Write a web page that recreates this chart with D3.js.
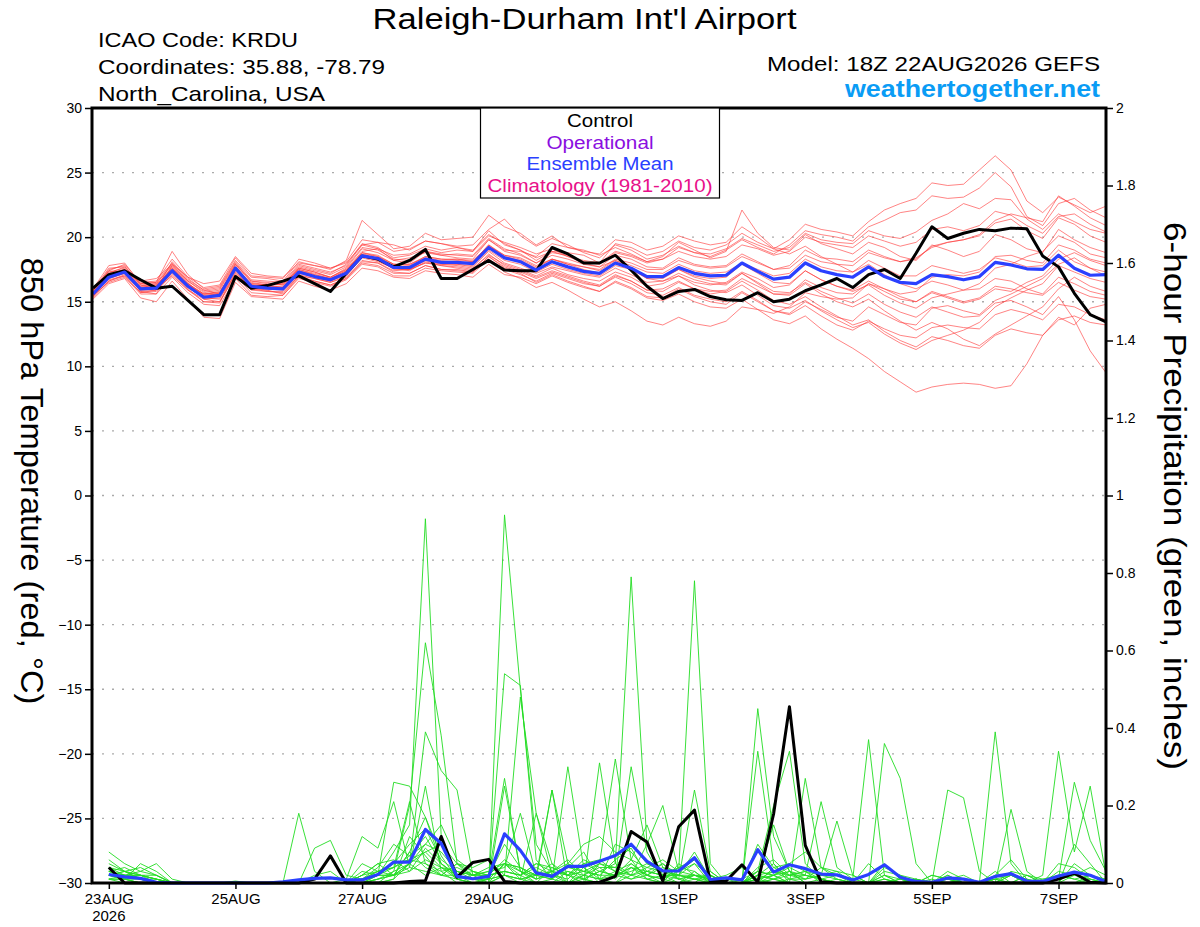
<!DOCTYPE html>
<html>
<head>
<meta charset="utf-8">
<script src="https://cdn.jsdelivr.net/npm/d3@7"></script>
<style>
  body { margin: 0; background: #fff; }
  text { font-family: "Liberation Sans", Arial, sans-serif; }
</style>
</head>
<body>
<svg id="chart" width="1200" height="927"></svg>
<script>
// run info: first temperature step is 18Z 22AUG, 6-hourly to 18Z 7SEP
const runStart = "2026-08-22T18:00:00Z";
const tempTicks = [-30, -25, -20, -15, -10, -5, 0, 5, 10, 15, 20, 25, 30];
const precipTicks = [0, 0.2, 0.4, 0.6, 0.8, 1, 1.2, 1.4, 1.6, 1.8, 2];
const dateTicks = ["2026-08-23", "2026-08-25", "2026-08-27", "2026-08-29",
                   "2026-09-01", "2026-09-03", "2026-09-05", "2026-09-07"];

// 850 hPa temperature, steps 0..64
const controlTemp = [16.05, 17.1, 17.4, 16.7, 16.05, 16.2, 15.1, 14.0, 14.0, 16.95,
  16.05, 16.25, 16.6, 17.0, 16.4, 15.8, 17.2, 18.55, 18.3, 17.7,
  18.2, 19.05, 16.8, 16.8, 17.5, 18.2, 17.45, 17.4, 17.4, 19.2,
  18.7, 18.0, 18.0, 18.6, 17.45, 16.2, 15.25, 15.8, 15.95, 15.4,
  15.15, 15.1, 15.7, 15.0, 15.2, 15.85, 16.3, 16.8, 16.1, 17.1,
  17.5, 16.8, 18.75, 20.8, 19.9, 20.3, 20.6, 20.5, 20.7, 20.65,
  18.55, 17.7, 15.65, 14.0, 13.45];

const meanTemp = [15.6, 16.9, 17.3, 16.0, 16.05, 17.4, 16.2, 15.35, 15.5, 17.6,
  16.2, 16.05, 16.0, 17.3, 16.95, 16.7, 17.2, 18.55, 18.35, 17.65,
  17.65, 18.3, 18.05, 18.05, 17.95, 19.2, 18.4, 18.1, 17.45, 18.1,
  17.7, 17.35, 17.2, 18.0, 17.6, 16.95, 16.95, 17.65, 17.2, 17.0,
  17.05, 18.0, 17.35, 16.75, 16.9, 18.0, 17.4, 17.1, 16.9, 17.7,
  16.95, 16.5, 16.4, 17.1, 16.95, 16.7, 16.95, 18.05, 17.85, 17.55,
  17.5, 18.6, 17.6, 17.05, 17.1];

const memberTemps = [
  [15.8,17.5,17.8,16.3,16.0,18.1,16.8,15.9,15.6,17.9,16.5,16.3,16.4, 17.8,17.5,17.2,17.9,19.5,19.2,18.4,18.6,19.1,18.8,19.0,18.9,20.5, 19.4,19.0,18.2,18.9,18.8,18.6,18.0,19.5,19.2,18.6,18.9,19.7,19.2, 19.0,19.4,20.3,19.6,19.1,19.8,21.0,20.6,20.4,20.1,21.2,22.1,22.6, 23.0,24.2,24.0,24.1,25.2,26.3,25.2,22.8,21.9,23.1,22.5,21.9,22.4],
  [15.4,17.2,17.5,15.8,15.6,17.8,16.5,15.2,15.0,17.3,16.0,15.9,16.1, 17.6,17.3,16.9,17.5,18.9,19.1,18.2,18.0,18.9,18.6,18.4,18.3,19.8, 18.9,18.6,18.0,18.8,18.6,18.1,17.9,18.8,18.5,18.0,18.3,19.2,18.8, 18.5,19.0,19.8,19.2,18.7,19.4,20.5,20.2,20.0,19.7,20.8,21.3,21.9, 22.1,23.2,23.0,23.1,23.8,25.0,23.9,21.6,20.9,22.6,23.0,22.1,21.5],
  [15.5,16.7,17.0,15.7,15.9,17.2,16.0,15.0,14.9,17.2,16.1,15.9,15.6, 17.0,16.6,16.3,16.8,18.2,18.0,17.3,17.2,17.8,17.5,17.4,17.3,18.5, 17.6,17.2,16.5,17.1,16.6,16.2,15.8,16.5,16.0,15.3,15.1,15.6,15.0, 14.6,14.5,15.2,14.4,13.6,13.3,13.9,12.9,12.1,11.4,10.6,9.6,8.8, 8.0,8.4,8.6,8.7,8.6,8.3,8.5,10.2,12.4,13.8,13.2,14.5,14.8],
  [15.7,17.0,17.4,16.1,16.3,17.6,16.4,15.6,15.7,17.8,16.3,16.2,16.2, 17.5,17.1,16.8,17.4,18.8,18.6,17.9,17.8,18.5,18.3,18.2,18.1,19.4, 18.5,18.2,17.6,18.3,17.9,17.5,17.2,18.1,17.5,16.8,16.9,17.5,16.9, 16.6,16.4,17.2,16.5,15.8,15.7,16.5,15.8,15.3,14.9,15.6,14.8,14.2, 13.8,14.6,14.2,13.8,13.9,14.9,15.1,14.6,14.0,15.4,13.6,11.2,9.5],
  [16.0,17.8,18.0,16.4,16.5,18.9,17.1,16.0,16.2,18.2,16.9,16.8,16.6, 18.1,17.8,17.5,18.2,21.3,20.2,19.1,19.3,20.3,19.8,19.9,20.0,21.7, 20.8,20.3,19.4,20.1,19.2,19.0,18.6,19.2,18.7,18.1,18.5,19.6,19.0, 18.4,18.9,22.1,20.3,19.2,19.0,20.2,19.5,19.1,18.7,19.6,19.2,18.5, 18.2,19.4,19.0,18.5,18.9,20.2,19.8,19.1,18.8,20.6,19.8,19.2,18.8],
  [15.2,16.4,16.8,15.3,15.0,16.6,15.2,13.8,13.7,16.5,15.4,15.3,15.2, 16.6,16.2,15.9,16.4,17.6,17.4,16.9,16.8,17.4,17.2,17.1,16.9,17.9, 17.1,16.9,16.4,17.0,16.5,16.1,15.8,16.6,16.1,15.4,15.3,16.0,15.4, 15.0,14.8,15.7,15.0,14.3,14.1,15.0,14.4,13.8,13.5,14.6,14.0,13.4, 13.2,14.5,14.7,14.3,14.0,15.1,15.6,16.2,16.8,17.9,18.4,17.6,17.0],
  [15.9,17.3,17.6,16.2,16.4,17.9,16.6,15.8,16.0,18.0,16.6,16.5,16.3, 17.6,17.3,16.9,17.6,19.1,18.8,18.2,18.4,18.8,18.6,18.7,18.6,19.9, 19.1,18.7,18.0,18.6,18.3,17.9,17.7,18.6,18.3,17.7,17.6,18.4,17.9, 17.7,17.8,18.7,18.1,17.5,17.8,19.0,18.4,18.3,18.1,19.0,18.5,18.1, 18.4,19.2,19.6,19.8,20.1,21.1,21.4,20.5,19.9,21.5,21.0,20.1,19.6],
  [15.3,16.6,17.1,15.9,16.0,17.0,15.9,15.2,15.3,17.1,15.9,15.8,15.7, 17.0,16.8,16.5,16.9,18.1,18.0,17.4,17.5,18.0,17.9,17.8,17.6,18.6, 17.9,17.5,17.0,17.6,17.1,16.8,16.6,17.3,16.9,16.2,16.4,17.0,16.5, 16.3,16.5,17.3,16.8,16.1,16.3,17.4,16.7,16.2,15.9,16.6,16.0,15.4, 15.0,15.8,15.4,15.0,15.3,16.2,16.0,15.7,15.5,16.5,15.9,15.4,15.2],
  [15.6,17.1,17.5,16.1,16.2,17.7,16.4,15.5,15.6,17.7,16.3,16.2,16.1, 17.4,17.0,16.7,17.3,18.5,18.3,17.5,17.5,18.2,17.9,17.9,17.7,18.9, 18.0,17.6,17.2,17.7,17.4,17.1,16.9,17.6,17.1,16.5,16.6,17.2,16.7, 16.4,16.3,17.2,16.4,15.6,15.5,16.4,15.6,15.0,14.6,15.2,14.3,13.5, 12.8,13.4,12.9,12.1,11.6,12.5,13.2,13.9,14.6,16.0,16.9,16.2,15.8],
  [15.8,16.8,17.2,16.0,16.2,17.5,16.3,15.6,15.8,17.5,16.4,16.3,16.4, 17.5,17.2,16.9,17.5,18.7,18.5,17.9,17.9,18.4,18.2,18.3,18.2,19.3, 18.6,18.4,17.8,18.3,17.9,17.7,17.4,18.2,17.8,17.3,17.2,17.9,17.4, 17.2,17.3,18.0,17.5,17.0,17.2,18.3,17.7,17.4,17.3,18.2,17.6,17.0, 17.0,17.8,17.5,17.2,17.5,18.4,18.1,17.7,17.8,19.0,18.1,17.6,17.3],
  [15.7,17.4,17.9,16.5,16.6,18.3,16.9,16.1,16.3,18.4,17.0,16.9,16.8, 18.3,18.0,17.6,18.1,19.8,19.6,18.9,19.1,19.7,19.5,19.3,19.4,20.6, 21.4,20.1,19.3,19.9,19.4,18.8,18.4,19.4,19.0,18.3,18.6,19.3,18.8, 18.7,19.1,19.9,19.4,18.9,19.2,20.3,19.8,19.6,19.5,20.5,20.1,19.9, 20.4,21.3,21.8,22.6,22.2,23.0,22.9,21.4,20.6,21.8,21.2,20.6,20.3],
  [15.5,16.5,16.9,15.6,15.6,16.9,15.7,14.8,14.7,16.8,15.5,15.4,15.5, 16.8,16.5,16.2,16.7,17.9,17.7,17.0,17.0,17.6,17.4,17.3,17.2,18.3, 17.5,17.1,16.6,17.2,16.8,16.4,16.2,17.0,16.6,15.9,15.8,16.5,16.0, 15.8,15.9,16.8,16.2,15.6,15.6,16.7,16.1,15.7,15.6,16.4,15.8,15.2, 15.0,15.7,15.3,14.9,15.2,16.0,15.8,16.5,17.0,18.3,18.8,18.2,17.8],
  [15.4,16.9,17.3,15.8,15.9,17.3,16.1,15.3,15.2,17.4,16.0,15.8,15.8, 17.1,16.8,16.5,17.0,18.4,18.1,17.6,17.4,18.1,17.8,17.7,17.5,18.7, 17.8,17.4,16.9,17.4,17.0,16.6,16.3,17.1,16.6,15.9,16.0,16.6,16.0, 15.6,15.8,16.6,15.9,15.1,14.8,15.4,14.6,13.9,13.2,13.6,12.7,12.0, 11.5,12.3,12.0,11.6,11.4,12.4,12.9,12.6,12.4,13.6,13.9,13.4,13.2],
  [15.9,17.6,17.7,16.4,16.5,18.0,16.7,15.9,16.1,18.1,16.7,16.6,16.5, 17.9,17.6,17.3,17.8,19.4,19.1,18.6,18.7,19.3,19.0,19.2,19.0,20.2, 19.5,19.0,18.4,18.9,18.5,18.2,18.0,18.9,18.6,18.1,18.3,18.9,18.5, 18.3,18.5,19.4,19.1,18.6,18.9,20.0,19.6,19.4,19.2,20.1,19.7,19.3, 19.6,20.6,20.8,20.5,20.9,22.0,21.7,20.9,20.3,21.6,21.8,21.0,20.4],
  [15.6,17.0,17.4,16.2,16.3,17.5,16.3,15.5,15.6,17.6,16.3,16.1,16.0, 17.3,16.9,16.6,17.2,18.5,18.2,17.6,17.5,18.0,17.8,17.6,17.4,18.3, 17.3,16.8,16.1,16.5,15.9,15.2,14.6,15.0,14.3,13.5,13.2,13.8,13.3, 13.1,13.5,14.6,14.4,14.1,14.6,15.7,15.4,15.2,15.3,16.4,16.0,15.6, 15.8,16.9,17.1,17.0,17.3,18.5,18.6,18.2,18.0,19.4,19.0,18.3,18.0],
  [15.5,16.8,17.2,15.9,16.0,17.3,16.1,15.3,15.4,17.5,16.1,16.0,15.9, 17.2,16.9,16.6,17.1,18.5,18.2,17.6,17.6,18.2,18.0,17.9,17.8,19.0, 18.2,17.9,17.3,17.9,17.5,17.2,17.0,17.8,17.5,16.9,16.8,17.5,17.0, 16.8,16.9,17.9,17.2,16.5,16.4,17.4,16.7,16.2,15.8,16.3,15.5,14.9, 14.5,15.3,15.6,15.9,16.4,17.6,17.9,18.5,18.9,20.1,19.6,18.7,18.4],
  [15.8,17.2,17.7,16.3,16.4,17.8,16.6,15.7,15.9,17.9,16.6,16.4,16.3, 17.7,17.4,17.1,17.7,19.2,19.0,18.3,18.2,18.9,18.7,18.6,18.5,19.8, 19.0,18.9,18.5,19.5,19.2,18.9,18.7,19.8,19.6,19.0,19.3,20.1,19.7, 19.4,19.6,20.8,20.0,19.1,18.7,19.3,18.5,17.9,17.3,17.9,17.1,16.4, 16.0,16.6,16.3,15.9,16.0,16.8,16.6,16.0,15.6,16.9,16.4,15.8,15.5],
  [15.4,16.6,17.0,15.7,15.8,17.1,15.9,15.0,15.0,17.0,15.7,15.6,15.5, 16.9,16.6,16.3,16.8,18.0,17.8,17.2,17.2,17.8,17.5,17.5,17.3,18.5, 17.7,17.3,16.8,17.3,16.9,16.5,16.2,16.9,16.4,15.7,15.5,16.1,15.5, 15.2,15.0,15.8,15.1,14.3,14.0,14.7,13.9,13.2,12.8,13.5,12.9,12.4, 12.2,13.0,13.2,13.0,12.9,14.0,14.4,14.1,13.6,14.8,14.6,14.0,13.6],
  [15.7,17.1,17.4,16.0,16.2,17.6,16.4,15.6,15.7,17.7,16.4,16.3,16.1, 17.4,17.1,16.8,17.4,18.8,18.5,17.9,17.9,18.5,18.3,18.3,18.1,19.4, 18.6,18.3,17.7,18.3,18.0,17.7,17.5,18.3,18.0,17.5,17.5,18.2,17.8, 17.6,17.7,18.5,18.0,17.5,17.6,18.6,18.1,17.9,17.8,18.8,18.4,18.1, 18.3,19.3,19.6,19.8,20.2,21.3,21.8,21.5,21.2,23.2,22.4,21.5,20.9],
  [15.9,17.4,17.2,16.6,16.8,17.9,16.9,16.4,16.6,18.5,17.2,17.0,16.9, 18.0,17.8,17.6,18.0,19.4,19.6,19.4,19.0,19.7,19.5,19.2,18.9,20.1, 19.6,19.2,18.7,19.1,18.5,18.0,17.7,18.2,17.6,16.8,16.6,17.0,16.3, 15.9,15.7,16.3,15.5,14.7,14.5,15.1,14.3,13.6,13.0,13.4,12.5,11.8, 11.3,12.0,12.4,12.8,13.4,14.6,15.3,15.9,16.4,17.8,17.3,16.8,16.5]
];

// 6-hour precipitation (inches), steps 1..64
const controlPrecip = [0.04, 0, 0, 0, 0, 0, 0, 0, 0, 0, 0, 0, 0, 0.01, 0.07, 0,
  0, 0, 0, 0.004, 0.006, 0.12, 0.015, 0.053, 0.061, 0.004, 0, 0, 0, 0, 0, 0.002,
  0.017, 0.133, 0.106, 0.005, 0.145, 0.188, 0.004, 0.005, 0.047, 0.002, 0.178, 0.455, 0.097, 0.003, 0, 0,
  0, 0, 0, 0, 0, 0, 0, 0, 0, 0, 0, 0, 0.01, 0.025, 0.002, 0];

const meanPrecip = [0.022, 0.016, 0.012, 0.002, 0, 0, 0, 0, 0, 0, 0, 0.003, 0.008, 0.012, 0.013, 0.008,
  0.008, 0.022, 0.054, 0.054, 0.138, 0.102, 0.017, 0.011, 0.017, 0.127, 0.084, 0.026, 0.017, 0.043, 0.043, 0.056,
  0.071, 0.1, 0.056, 0.031, 0.031, 0.065, 0.009, 0.013, 0.008, 0.086, 0.028, 0.047, 0.037, 0.023, 0.021, 0.008,
  0.022, 0.047, 0.015, 0.004, 0.002, 0.013, 0.01, 0.002, 0.017, 0.024, 0.005, 0.004, 0.018, 0.028, 0.02, 0.003];

const memberPrecip = [
  [0.06,0.03,0.01,0,0,0,0,0, 0,0,0,0,0,0,0,0, 0,0.02,0.08,0.15,0.94,0.12,0.02,0, 0.01,0.05,0.02,0,0,0.03,0.01,0, 0,0.04,0.02,0,0,0.01,0,0, 0,0.02,0.05,0.01,0,0,0,0, 0,0.01,0,0,0,0,0,0, 0,0,0,0,0.02,0.01,0,0],
  [0.03,0.04,0.02,0.01,0,0,0,0, 0,0,0,0,0,0,0,0, 0,0,0.03,0.2,0.62,0.38,0.05,0.01, 0,0.02,0.01,0,0.04,0.02,0,0.05, 0.32,0.06,0.01,0,0.02,0.05,0,0, 0,0.45,0.12,0.03,0,0,0,0, 0,0,0,0,0,0.02,0,0, 0,0,0,0,0,0.05,0.02,0],
  [0.02,0.01,0.05,0.03,0,0,0,0, 0,0,0,0,0.18,0.03,0,0, 0,0,0.01,0.05,0.39,0.29,0.24,0.02, 0,0.02,0.48,0.18,0.02,0,0.04,0.01, 0,0.02,0.1,0.2,0.03,0.06,0.02,0, 0,0.03,0.2,0.34,0.05,0.01,0,0, 0,0.05,0.01,0,0,0.02,0,0, 0,0.02,0,0,0,0,0,0],
  [0.08,0.05,0.03,0.05,0.01,0,0,0, 0.005,0,0,0,0,0.09,0.11,0.02, 0.01,0.02,0.26,0.25,0.17,0.07,0.01,0, 0,0.95,0.5,0.1,0.03,0,0.02,0.05, 0.03,0.01,0.02,0.05,0.01,0,0.03,0, 0,0,0.02,0,0.27,0.04,0.01,0, 0,0,0,0.01,0,0.24,0.22,0.03, 0,0,0,0,0,0,0,0],
  [0.01,0.02,0.01,0,0,0,0,0, 0,0,0,0,0,0,0,0.01, 0.12,0.09,0.21,0.04,0.25,0.03,0,0, 0,0.05,0.01,0.18,0.05,0,0,0.31, 0.05,0.79,0.1,0.02,0,0.02,0.01,0, 0,0,0.01,0.03,0.02,0.21,0.04,0.01, 0.37,0.02,0,0,0,0.01,0,0, 0,0.02,0.01,0,0,0,0,0],
  [0.02,0.03,0.04,0.02,0,0,0,0, 0,0,0,0,0,0,0,0, 0,0.01,0.02,0.08,0.17,0.05,0.02,0.01, 0.02,0.27,0.03,0.01,0.24,0,0.02,0.01, 0.03,0.05,0.02,0.04,0.03,0.78,0.05,0, 0,0.02,0.01,0,0,0,0,0, 0,0.36,0.27,0.05,0,0,0,0, 0.01,0,0,0,0,0,0.01,0],
  [0.04,0.02,0.01,0,0,0,0,0, 0,0,0,0,0,0,0,0, 0.02,0.05,0.06,0.03,0.09,0.05,0.01,0, 0,0.25,0.03,0,0.01,0.3,0.04,0, 0.02,0.06,0.15,0.04,0.01,0.24,0.03,0, 0,0.34,0.05,0,0,0,0,0, 0,0,0,0,0,0,0,0, 0.39,0.05,0,0,0,0.02,0.01,0],
  [0.03,0.01,0,0,0,0,0,0, 0,0,0,0,0,0,0,0, 0,0,0.01,0.12,0.07,0.02,0.05,0.04, 0.06,0.02,0.01,0.02,0.03,0.02,0.01,0.03, 0.02,0.04,0.01,0,0.05,0.02,0.02,0, 0,0.02,0.15,0.03,0.01,0.02,0.16,0.02, 0,0,0.01,0,0,0,0.01,0, 0,0.19,0.03,0,0,0,0,0],
  [0.02,0.02,0.03,0.02,0,0,0,0, 0,0,0,0,0,0,0,0, 0.01,0.03,0.04,0.21,0.05,0.02,0.01,0.02, 0.04,0.05,0.04,0.02,0.01,0.05,0.03,0.02, 0.06,0.09,0.02,0.01,0.04,0.03,0,0, 0,0,0.04,0.02,0.02,0.01,0,0, 0,0.02,0.01,0,0.01,0,0,0, 0,0,0,0.02,0.34,0.08,0.25,0.02],
  [0.01,0,0,0,0,0,0,0, 0,0,0,0,0,0,0,0, 0.03,0.02,0.02,0.05,0.1,0.15,0.06,0.03, 0.02,0.03,0.02,0.05,0.03,0.05,0.1,0.12, 0.08,0.06,0.04,0.03,0.01,0.02,0,0, 0,0.1,0.04,0.05,0.03,0.02,0.03,0, 0,0,0,0,0,0,0,0, 0,0,0.02,0.01,0.01,0.26,0.11,0.03],
  [0.03,0.02,0.02,0.01,0,0,0,0, 0,0,0,0,0,0,0,0, 0.01,0.04,0.1,0.07,0.12,0.05,0.02,0.03, 0.01,0.54,0.51,0.06,0.01,0,0.01,0, 0.02,0.03,0.05,0.03,0.02,0.01,0.01,0.02, 0.04,0.01,0.02,0.03,0,0,0,0, 0,0.04,0.02,0,0.02,0.01,0,0, 0,0,0,0,0,0,0,0],
  [0.02,0.01,0.01,0,0,0,0,0, 0,0,0,0,0,0.02,0.03,0, 0.01,0.02,0.05,0.06,0.05,0.03,0.04,0.02, 0.03,0.04,0.18,0.02,0.24,0.05,0.01,0.03, 0.02,0.3,0.08,0.01,0.03,0.05,0.02,0, 0,0.04,0.06,0.02,0.03,0,0.01,0, 0,0.02,0,0,0,0,0,0, 0,0.03,0.02,0,0,0,0,0],
  [0.05,0.03,0.02,0.01,0,0,0,0, 0,0,0,0,0,0,0,0, 0.02,0.05,0.02,0.03,0.06,0.04,0.01,0, 0.01,0.02,0,0.03,0.02,0.04,0.08,0.01, 0.02,0.01,0.03,0.02,0.02,0.08,0.01,0, 0,0.01,0.03,0.02,0.01,0.04,0.03,0.02, 0,0,0,0.01,0,0.03,0.01,0, 0.02,0.06,0.01,0,0,0.1,0.05,0],
  [0.01,0.01,0,0,0,0,0,0, 0,0,0,0,0,0,0,0, 0,0.01,0.03,0.05,0.02,0.04,0.03,0.01, 0.02,0.03,0.02,0.04,0.02,0.01,0.05,0.03, 0.05,0.02,0.03,0.02,0.02,0.02,0.01,0.01, 0,0.03,0.02,0.05,0.08,0.04,0.02,0, 0.05,0.01,0,0,0,0,0,0, 0,0,0,0,0.05,0.04,0.01,0],
  [0.02,0.03,0.01,0,0,0,0,0, 0,0,0,0,0,0,0,0, 0.05,0.03,0.02,0.08,0.04,0.02,0.02,0.01, 0.01,0.05,0.03,0.01,0.02,0.03,0.02,0.04, 0.01,0.05,0.02,0.01,0,0.03,0,0, 0,0.02,0.01,0,0,0.01,0,0, 0,0.03,0.02,0.01,0,0,0,0, 0,0,0,0,0,0,0.02,0.01],
  [0.03,0.02,0.02,0.01,0,0,0,0, 0,0,0,0,0,0,0,0, 0.02,0.03,0.05,0.1,0.14,0.06,0.03,0.02, 0.03,0.05,0.04,0.02,0.05,0.02,0.06,0.04, 0.04,0.1,0.05,0.03,0.02,0.01,0,0, 0,0.01,0.02,0,0,0,0,0, 0,0,0,0,0.02,0.01,0,0, 0,0,0,0,0,0,0,0],
  [0.02,0.01,0,0,0,0,0,0, 0,0,0,0,0,0,0,0, 0.01,0.02,0.04,0.06,0.08,0.1,0.05,0.02, 0.02,0.1,0.04,0.01,0.03,0.06,0.02,0.01, 0.1,0.08,0.03,0.02,0.04,0.06,0.02,0, 0,0,0.01,0.02,0.03,0.01,0.02,0.01, 0,0,0,0.01,0,0,0,0, 0.03,0,0,0,0,0,0,0],
  [0.04,0.03,0.02,0.02,0,0,0,0, 0,0,0,0,0,0,0,0, 0,0.02,0.02,0.04,0.03,0.02,0.05,0.03, 0.02,0.03,0.02,0.05,0.04,0.02,0.03,0.05, 0.04,0.02,0.01,0.02,0.01,0.02,0.01,0, 0.01,0.03,0.02,0.04,0.02,0.01,0,0, 0,0,0.01,0,0,0.01,0.02,0, 0.01,0.02,0,0,0.03,0.02,0.04,0.02],
  [0.01,0.01,0.02,0,0,0,0,0, 0,0,0,0,0,0,0,0, 0,0.01,0.02,0.05,0.08,0.04,0.02,0.01, 0.01,0.02,0.01,0.02,0.03,0.02,0.05,0.06, 0.03,0.02,0.04,0.06,0.03,0.02,0.01,0, 0,0.01,0,0.01,0.02,0.01,0,0, 0,0,0,0,0,0,0.01,0, 0.01,0,0.02,0,0,0,0,0],
  [0.02,0.02,0.01,0.01,0,0,0,0, 0,0,0,0,0,0,0,0, 0.01,0.03,0.04,0.07,0.1,0.08,0.03,0.02, 0.02,0.06,0.03,0.02,0.01,0.04,0.03,0.02, 0.02,0.04,0.03,0.05,0.02,0.01,0.02,0, 0,0.02,0.03,0.01,0.01,0.02,0.01,0, 0,0.01,0,0,0,0,0,0, 0,0,0,0.01,0.02,0.01,0.02,0]
];

// ---------------------------------------------------------------
var width = 1200, height = 927;
var plot = { left: 92, right: 1106, top: 108, bottom: 883 };

var svg = d3.select("#chart");
svg.append("rect").attr("width", width).attr("height", height).attr("fill", "#fff");

var t0 = new Date(runStart);
var stepTime = function (i) { return new Date(t0.getTime() + i * 6 * 3600 * 1000); };

var x = d3.scaleUtc()
    .domain([stepTime(0), stepTime(64)])
    .range([plot.left + 1, plot.right]);
var yT = d3.scaleLinear().domain([-30, 30]).range([plot.bottom, plot.top]);
var yP = d3.scaleLinear().domain([0, 2]).range([plot.bottom, plot.top]);

// dotted grid on temperature values
svg.append("g").selectAll("line")
    .data(tempTicks.filter(function (d) { return d > -30 && d < 30; }))
    .enter().append("line")
    .attr("x1", plot.left).attr("x2", plot.right)
    .attr("y1", function (d) { return yT(d); })
    .attr("y2", function (d) { return yT(d); })
    .attr("stroke", "#aaa").attr("stroke-width", 1.3)
    .attr("stroke-dasharray", "2,8");

var tempLine = d3.line()
    .x(function (d, i) { return x(stepTime(i)); })
    .y(function (d) { return yT(d); });

var precipLine = d3.line()
    .x(function (d, i) { return x(stepTime(i + 1)); })
    .y(function (d) { return yP(d); });

// ensemble members
svg.append("g").selectAll("path")
    .data(memberTemps)
    .enter().append("path")
    .attr("d", tempLine)
    .attr("fill", "none")
    .attr("stroke", "#ff3b3b").attr("stroke-opacity", 0.7)
    .attr("stroke-width", 0.9);

svg.append("g").selectAll("path")
    .data(memberPrecip)
    .enter().append("path")
    .attr("d", precipLine)
    .attr("fill", "none")
    .attr("stroke", "#22dd22")
    .attr("stroke-width", 0.9);

// control and mean
svg.append("path").datum(controlTemp).attr("d", tempLine)
    .attr("fill", "none").attr("stroke", "#000").attr("stroke-width", 3)
    .attr("stroke-linejoin", "round");
svg.append("path").datum(controlPrecip).attr("d", precipLine)
    .attr("fill", "none").attr("stroke", "#000").attr("stroke-width", 3)
    .attr("stroke-linejoin", "round");
svg.append("path").datum(meanTemp).attr("d", tempLine)
    .attr("fill", "none").attr("stroke", "#2a40ff").attr("stroke-width", 3.2)
    .attr("stroke-linejoin", "round");
svg.append("path").datum(meanPrecip).attr("d", precipLine)
    .attr("fill", "none").attr("stroke", "#2a40ff").attr("stroke-width", 3.2)
    .attr("stroke-linejoin", "round");

// frame
svg.append("rect")
    .attr("x", plot.left).attr("y", plot.top)
    .attr("width", plot.right - plot.left).attr("height", plot.bottom - plot.top)
    .attr("fill", "none").attr("stroke", "#000").attr("stroke-width", 3);

// axes
var leftAxis = svg.append("g")
    .attr("transform", "translate(" + plot.left + ",0)")
    .call(d3.axisLeft(yT).tickValues(tempTicks).tickSize(7).tickPadding(3));
var rightAxis = svg.append("g")
    .attr("transform", "translate(" + plot.right + ",0)")
    .call(d3.axisRight(yP).tickValues(precipTicks).tickSize(7).tickPadding(3)
        .tickFormat(function (d) { return String(+d.toFixed(1)); }));
var bottomAxis = svg.append("g")
    .attr("transform", "translate(0," + plot.bottom + ")")
    .call(d3.axisBottom(x)
        .tickValues(dateTicks.map(function (s) { return new Date(s + "T00:00:00Z"); }))
        .tickSize(6).tickPadding(4)
        .tickFormat(function (d) { return d3.utcFormat("%-d%b")(d).toUpperCase(); }));

[leftAxis, rightAxis, bottomAxis].forEach(function (g) {
    g.select(".domain").remove();
    g.selectAll(".tick line").attr("stroke", "#000").attr("stroke-width", 1.5);
    g.selectAll(".tick text").attr("fill", "#000")
        .style("font-family", '"Liberation Sans", Arial, sans-serif');
});
leftAxis.selectAll(".tick text").style("font-size", "14px");
rightAxis.selectAll(".tick text").style("font-size", "14px");
bottomAxis.selectAll(".tick text").style("font-size", "15px");

svg.append("text")
    .attr("x", x(new Date(dateTicks[0] + "T00:00:00Z"))).attr("y", 921)
    .attr("text-anchor", "middle").style("font-size", "15px")
    .text("2026");

// text helper: the source font is set wider than Arial, so fix run lengths
function label(g, txt, px, len) {
    return g.append("text").style("font-size", px + "px")
        .attr("textLength", len).attr("lengthAdjust", "spacingAndGlyphs")
        .text(txt);
}

// header texts
label(svg, "Raleigh-Durham Int'l Airport", 30, 424)
    .attr("x", 584.5).attr("y", 29).attr("text-anchor", "middle");

var info = ["ICAO Code: KRDU", "Coordinates: 35.88, -78.79", "North_Carolina, USA"];
var infoLen = [200, 287, 227];
info.forEach(function (d, i) {
    label(svg, d, 21, infoLen[i]).attr("x", 98).attr("y", 47 + i * 27);
});

label(svg, "Model: 18Z 22AUG2026 GEFS", 21, 333)
    .attr("x", 1100).attr("y", 71).attr("text-anchor", "end");
label(svg, "weathertogether.net", 24, 255)
    .attr("x", 1100).attr("y", 97).attr("text-anchor", "end")
    .style("font-weight", "bold").attr("fill", "#0a9cf5");

// axis titles (both read top to bottom)
label(svg, "850 hPa Temperature (red, \u00b0C)", 31, 447)
    .attr("transform", "translate(21,481) rotate(90)")
    .attr("text-anchor", "middle");
label(svg, "6-hour Precipitation (green, inches)", 31, 548)
    .attr("transform", "translate(1164,496) rotate(90)")
    .attr("text-anchor", "middle");

// legend
var legendItems = ["Control", "Operational", "Ensemble Mean", "Climatology (1981-2010)"];
var legendColors = ["#000", "#8a0ee0", "#2a40ff", "#e8108a"];
var legendLen = [66, 107, 147, 225];
svg.append("rect")
    .attr("x", 480.5).attr("y", plot.top).attr("width", 239).attr("height", 90)
    .attr("fill", "#fff").attr("stroke", "#000").attr("stroke-width", 1.2);
legendItems.forEach(function (d, i) {
    label(svg, d, 17.5, legendLen[i])
        .attr("x", 600).attr("y", 127 + i * 21.5)
        .attr("text-anchor", "middle").attr("fill", legendColors[i]);
});
</script>
</body>
</html>
